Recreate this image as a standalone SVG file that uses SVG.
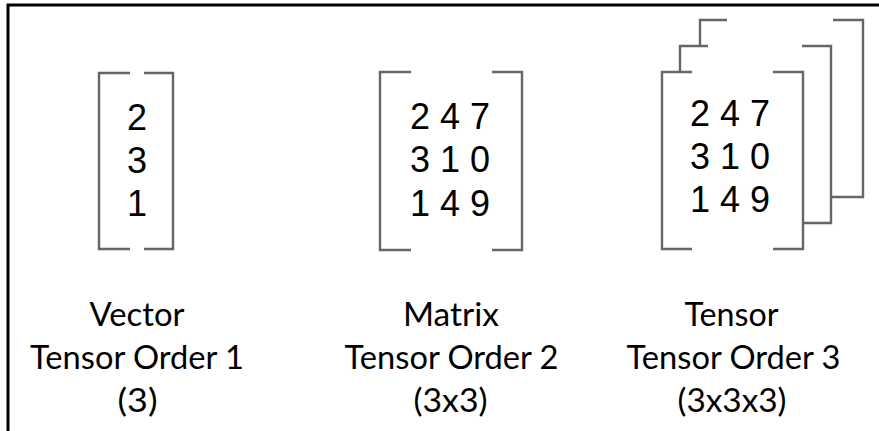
<svg xmlns="http://www.w3.org/2000/svg" width="879" height="431" viewBox="0 0 879 431">
<style>
.frame{fill:none;stroke:#000;stroke-width:3}
.br{fill:none;stroke:#666;stroke-width:2.4}
.num{font-family:"Liberation Sans",Arial,sans-serif;font-size:36px;fill:#000;text-anchor:middle}
.lbl{font-family:Lato,"Open Sans",sans-serif;font-size:32px;fill:#000;text-anchor:middle}
</style>
<rect width="879" height="431" fill="#fff"/>
<g id="frame">
<path class="frame" d="M8,431 V5 H879"/>
</g>
<g id="vector">
<path class="br" d="M130,73 H99 V249 H130"/>
<path class="br" d="M144,73 H173 V249 H144"/>
<text class="num" x="137" y="130">2</text>
<text class="num" x="137" y="173">3</text>
<text class="num" x="137" y="216">1</text>
<text class="lbl" x="137" y="326" textLength="95" lengthAdjust="spacingAndGlyphs">Vector</text>
<text class="lbl" x="137" y="369" textLength="214" lengthAdjust="spacingAndGlyphs">Tensor Order 1</text>
<text class="lbl" x="137.5" y="412" textLength="40" lengthAdjust="spacingAndGlyphs">(3)</text>
</g>
<g id="matrix">
<path class="br" d="M411,72 H380 V250 H411"/>
<path class="br" d="M492,72 H522 V250 H492"/>
<text class="num" x="450" y="129">2 4 7</text>
<text class="num" x="450" y="172">3 1 0</text>
<text class="num" x="450" y="216">1 4 9</text>
<text class="lbl" x="451" y="326" textLength="96" lengthAdjust="spacingAndGlyphs">Matrix</text>
<text class="lbl" x="451.5" y="369" textLength="214" lengthAdjust="spacingAndGlyphs">Tensor Order 2</text>
<text class="lbl" x="450.5" y="412" textLength="74" lengthAdjust="spacingAndGlyphs">(3x3)</text>
</g>
<g id="tensor">
<path class="br" d="M727,20 H700 V46"/>
<path class="br" d="M833,20 H863 V197 H831"/>
<path class="br" d="M708,46 H680 V72"/>
<path class="br" d="M802,46 H831 V223 H803"/>
<path class="br" d="M692,72 H662 V249 H692"/>
<path class="br" d="M773,72 H803 V249 H773"/>
<text class="num" x="730" y="126">2 4 7</text>
<text class="num" x="730" y="169">3 1 0</text>
<text class="num" x="730" y="212">1 4 9</text>
<text class="lbl" x="731.5" y="326" textLength="94" lengthAdjust="spacingAndGlyphs">Tensor</text>
<text class="lbl" x="733.5" y="369" textLength="214" lengthAdjust="spacingAndGlyphs">Tensor Order 3</text>
<text class="lbl" x="732" y="412" textLength="109" lengthAdjust="spacingAndGlyphs">(3x3x3)</text>
</g>
<g id="connectors"/>
</svg>
